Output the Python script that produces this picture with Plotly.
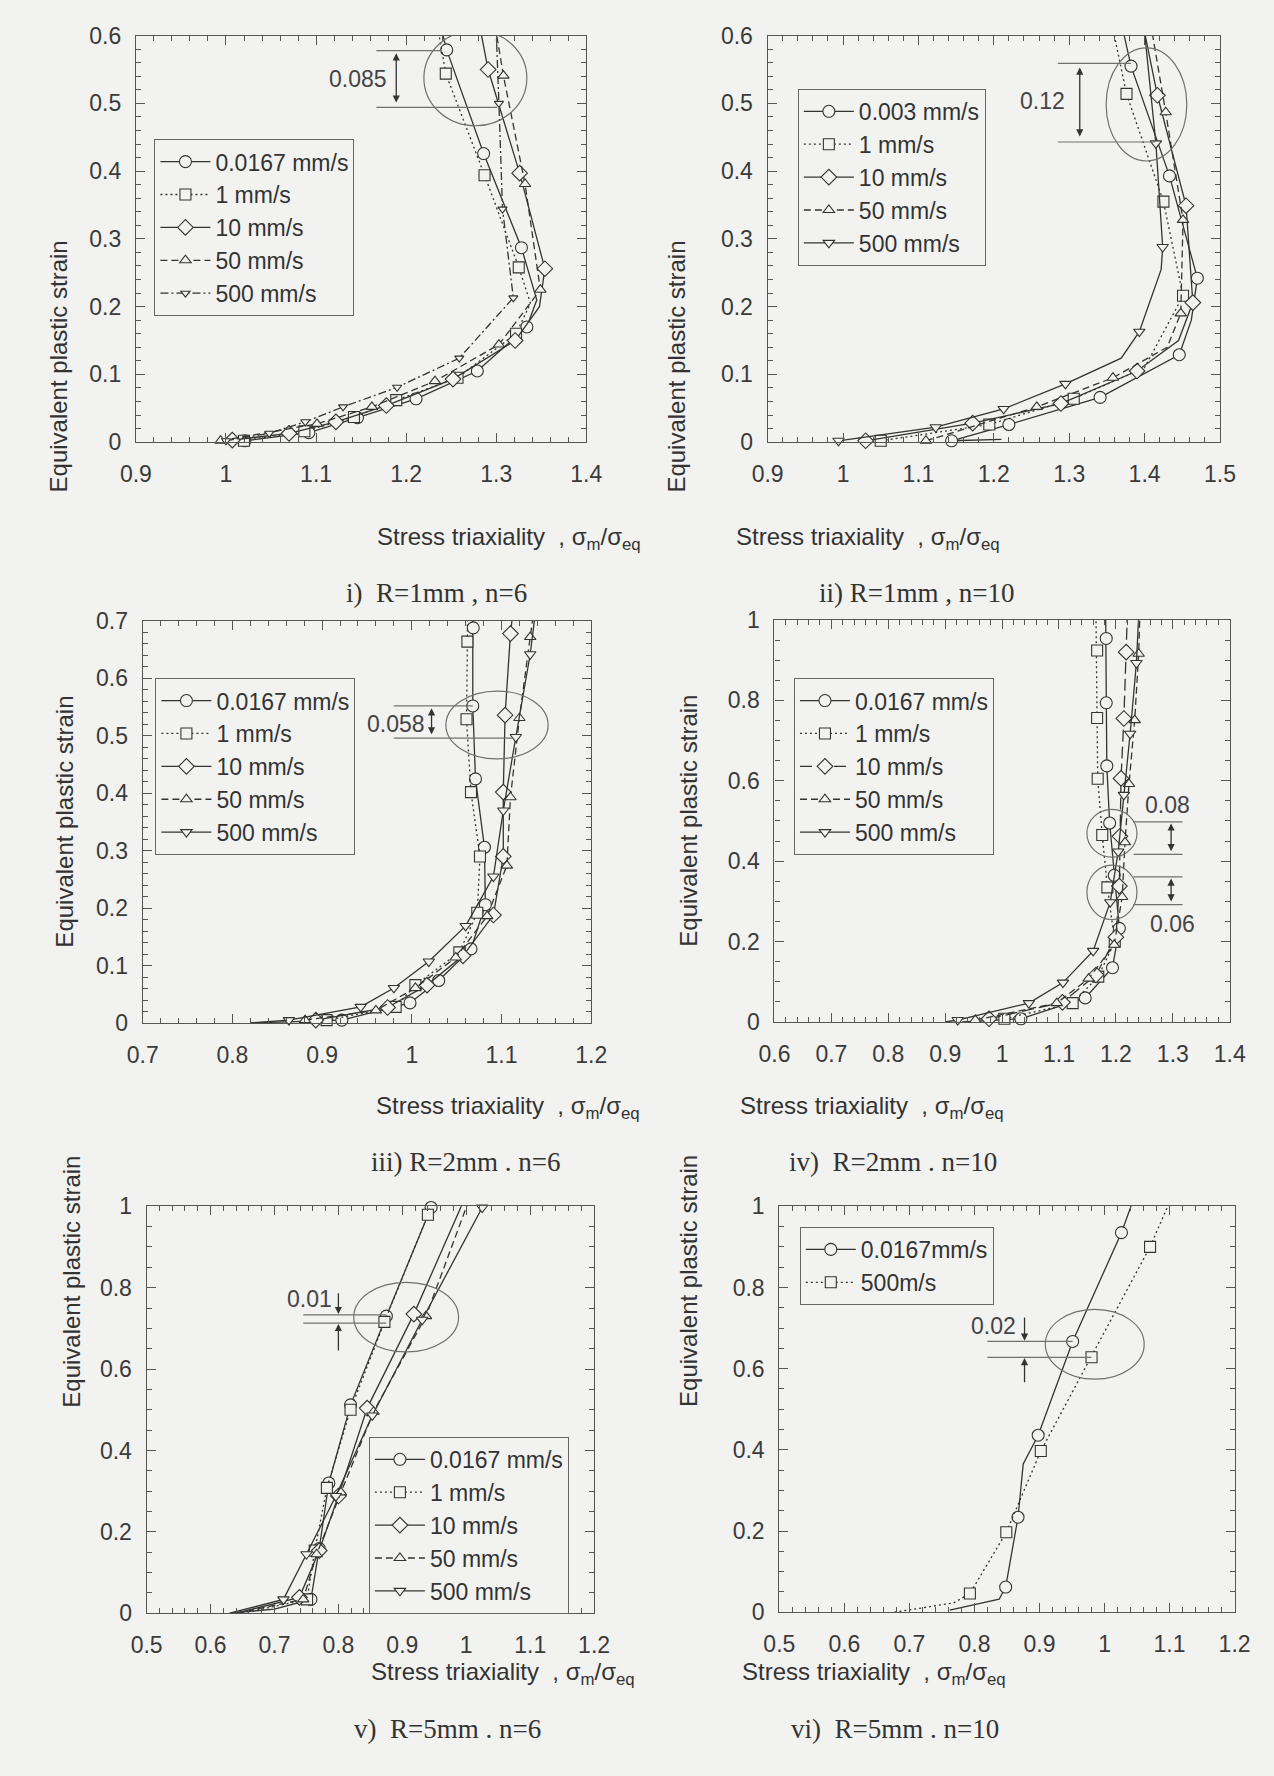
import plotly.graph_objects as go

W, H = 1274, 1776

# ---------------- labels ----------------
SPEEDS_A = ["0.0167 mm/s", "1 mm/s", "10 mm/s", "50 mm/s", "500 mm/s"]
SPEEDS_B = ["0.003 mm/s", "1 mm/s", "10 mm/s", "50 mm/s", "500 mm/s"]
SPEEDS_C = ["0.0167mm/s", "500m/s"]
CAPTIONS = ["i)  R=1mm , n=6", "ii) R=1mm , n=10", "iii) R=2mm . n=6",
            "iv)  R=2mm . n=10", "v)  R=5mm . n=6", "vi)  R=5mm . n=10"]
GAP_LABELS = ["0.085", "0.12", "0.058", "0.08", "0.06", "0.01", "0.02"]
XRANGES = [[0.9, 1.4], [0.9, 1.5], [0.7, 1.2], [0.6, 1.4], [0.5, 1.2], [0.5, 1.2]]
YRANGES = [[0, 0.6], [0, 0.6], [0, 0.7], [0, 1], [0, 1], [0, 1]]

# ---------------- data (x = stress triaxiality, y = equivalent plastic strain, m = marker shown) ----------------
# Panel i  R=1mm n=6
P1_S1_X = [1.021, 1.092, 1.146, 1.211, 1.279, 1.334, 1.345, 1.328, 1.286, 1.245, 1.240]
P1_S1_Y = [0.002, 0.014, 0.036, 0.064, 0.105, 0.170, 0.210, 0.287, 0.426, 0.579, 0.605]
P1_S1_M = [1, 1, 1, 1, 1, 1, 0, 1, 1, 1, 0]
P1_S2_X = [1.020, 1.087, 1.142, 1.189, 1.257, 1.322, 1.338, 1.325, 1.287, 1.244, 1.236]
P1_S2_Y = [0.002, 0.016, 0.037, 0.062, 0.095, 0.160, 0.205, 0.258, 0.394, 0.544, 0.605]
P1_S2_M = [1, 1, 1, 1, 1, 1, 0, 1, 1, 1, 0]
P1_S3_X = [1.007, 1.070, 1.122, 1.178, 1.252, 1.321, 1.348, 1.354, 1.326, 1.291, 1.283]
P1_S3_Y = [0.003, 0.013, 0.030, 0.054, 0.093, 0.150, 0.200, 0.256, 0.397, 0.550, 0.605]
P1_S3_M = [1, 1, 1, 1, 1, 1, 0, 1, 1, 1, 0]
P1_S4_X = [0.994, 1.101, 1.162, 1.232, 1.303, 1.349, 1.332, 1.308, 1.300]
P1_S4_Y = [0.002, 0.027, 0.052, 0.090, 0.144, 0.225, 0.381, 0.541, 0.605]
P1_S4_M = [1, 1, 1, 1, 1, 1, 1, 1, 0]
P1_S5_X = [1.000, 1.048, 1.088, 1.130, 1.190, 1.259, 1.319, 1.307, 1.303, 1.300]
P1_S5_Y = [0.002, 0.013, 0.030, 0.052, 0.081, 0.124, 0.213, 0.344, 0.500, 0.605]
P1_S5_M = [1, 1, 1, 1, 1, 1, 1, 1, 1, 0]

# Panel ii  R=1mm n=10
P2_S1_X = [1.210, 1.144, 1.220, 1.341, 1.446, 1.462, 1.470, 1.433, 1.382, 1.372]
P2_S1_Y = [0.004, 0.002, 0.026, 0.066, 0.129, 0.180, 0.242, 0.393, 0.555, 0.605]
P2_S1_M = [0, 1, 1, 1, 1, 0, 1, 1, 1, 0]
P2_S2_X = [1.050, 1.194, 1.306, 1.400, 1.451, 1.425, 1.376, 1.359]
P2_S2_Y = [0.002, 0.026, 0.064, 0.110, 0.216, 0.355, 0.514, 0.605]
P2_S2_M = [1, 1, 1, 0, 1, 1, 1, 0]
P2_S3_X = [1.030, 1.172, 1.289, 1.390, 1.445, 1.464, 1.455, 1.417, 1.400]
P2_S3_Y = [0.002, 0.028, 0.057, 0.105, 0.150, 0.206, 0.349, 0.512, 0.605]
P2_S3_M = [1, 1, 1, 1, 0, 1, 1, 1, 0]
P2_S4_X = [1.110, 1.257, 1.358, 1.430, 1.448, 1.451, 1.428, 1.410]
P2_S4_Y = [0.002, 0.052, 0.095, 0.140, 0.190, 0.328, 0.487, 0.605]
P2_S4_M = [1, 1, 1, 0, 1, 1, 1, 0]
P2_S5_X = [0.994, 1.123, 1.213, 1.295, 1.369, 1.393, 1.422, 1.424, 1.415, 1.400]
P2_S5_Y = [0.002, 0.022, 0.049, 0.086, 0.124, 0.163, 0.255, 0.288, 0.441, 0.605]
P2_S5_M = [1, 1, 1, 1, 0, 1, 0, 1, 1, 0]

# Panel iii  R=2mm n=6
P3_S1_X = [0.820, 0.922, 0.998, 1.030, 1.066, 1.082, 1.081, 1.071, 1.068, 1.0685, 1.068]
P3_S1_Y = [0.000, 0.005, 0.035, 0.074, 0.129, 0.206, 0.306, 0.425, 0.552, 0.688, 0.705]
P3_S1_M = [0, 1, 1, 1, 1, 1, 1, 1, 1, 1, 0]
P3_S2_X = [0.905, 0.982, 1.004, 1.053, 1.073, 1.076, 1.066, 1.061, 1.062, 1.062]
P3_S2_Y = [0.005, 0.028, 0.066, 0.123, 0.192, 0.290, 0.402, 0.529, 0.664, 0.705]
P3_S2_M = [1, 1, 1, 1, 1, 1, 1, 1, 1, 0]
P3_S3_X = [0.893, 0.973, 1.017, 1.057, 1.091, 1.102, 1.102, 1.104, 1.110, 1.112]
P3_S3_Y = [0.005, 0.027, 0.066, 0.117, 0.188, 0.290, 0.402, 0.536, 0.678, 0.705]
P3_S3_M = [1, 1, 1, 1, 1, 1, 1, 1, 1, 0]
P3_S4_X = [0.881, 0.960, 1.004, 1.049, 1.084, 1.106, 1.110, 1.120, 1.132, 1.135]
P3_S4_Y = [0.005, 0.022, 0.061, 0.114, 0.186, 0.274, 0.393, 0.531, 0.672, 0.705]
P3_S4_M = [1, 1, 1, 1, 1, 1, 1, 1, 1, 0]
P3_S5_X = [0.820, 0.863, 0.943, 0.980, 1.019, 1.060, 1.091, 1.102, 1.116, 1.132, 1.137]
P3_S5_Y = [0.000, 0.005, 0.028, 0.061, 0.107, 0.169, 0.255, 0.370, 0.498, 0.642, 0.705]
P3_S5_M = [0, 1, 1, 1, 1, 1, 1, 1, 1, 1, 0]

# Panel iv  R=2mm n=10
P4_S1_X = [0.930, 1.033, 1.146, 1.194, 1.206, 1.197, 1.189, 1.184, 1.183, 1.183, 1.182]
P4_S1_Y = [0.000, 0.008, 0.060, 0.135, 0.233, 0.365, 0.495, 0.637, 0.794, 0.954, 1.010]
P4_S1_M = [0, 1, 1, 1, 1, 1, 1, 1, 1, 1, 0]
P4_S2_X = [1.004, 1.124, 1.169, 1.198, 1.185, 1.176, 1.168, 1.167, 1.167, 1.165]
P4_S2_Y = [0.008, 0.047, 0.113, 0.200, 0.335, 0.465, 0.605, 0.756, 0.924, 1.010]
P4_S2_M = [1, 1, 1, 1, 1, 1, 1, 1, 1, 0]
P4_S3_X = [0.977, 1.106, 1.165, 1.200, 1.206, 1.207, 1.209, 1.214, 1.218, 1.220]
P4_S3_Y = [0.008, 0.049, 0.117, 0.211, 0.338, 0.462, 0.606, 0.755, 0.920, 1.010]
P4_S3_M = [1, 1, 1, 1, 1, 1, 1, 1, 1, 0]
P4_S4_X = [0.953, 1.096, 1.152, 1.197, 1.211, 1.216, 1.223, 1.233, 1.240, 1.242]
P4_S4_Y = [0.005, 0.047, 0.108, 0.192, 0.311, 0.447, 0.592, 0.751, 0.916, 1.010]
P4_S4_M = [1, 1, 1, 1, 1, 1, 1, 1, 1, 0]
P4_S5_X = [0.900, 0.922, 1.047, 1.107, 1.160, 1.190, 1.204, 1.214, 1.225, 1.236, 1.240]
P4_S5_Y = [0.000, 0.005, 0.047, 0.098, 0.177, 0.298, 0.424, 0.565, 0.717, 0.893, 1.010]
P4_S5_M = [0, 1, 1, 1, 1, 1, 1, 1, 1, 1, 0]

# Panel v  R=5mm n=6
P5_S1_X = [0.630, 0.700, 0.757, 0.770, 0.785, 0.819, 0.875, 0.945, 0.947]
P5_S1_Y = [0.000, 0.010, 0.034, 0.159, 0.320, 0.512, 0.730, 0.997, 1.010]
P5_S1_M = [0, 0, 1, 1, 1, 1, 1, 1, 0]
P5_S2_X = [0.650, 0.751, 0.763, 0.782, 0.819, 0.872, 0.940, 0.945]
P5_S2_Y = [0.000, 0.034, 0.154, 0.308, 0.500, 0.716, 0.979, 1.010]
P5_S2_M = [0, 1, 1, 1, 1, 1, 1, 0]
P5_S3_X = [0.640, 0.739, 0.770, 0.800, 0.845, 0.918, 0.995]
P5_S3_Y = [0.000, 0.039, 0.154, 0.288, 0.504, 0.735, 1.010]
P5_S3_M = [0, 1, 1, 1, 1, 1, 0]
P5_S4_X = [0.640, 0.745, 0.766, 0.804, 0.855, 0.937, 1.003]
P5_S4_Y = [0.000, 0.034, 0.145, 0.297, 0.495, 0.730, 1.010]
P5_S4_M = [0, 1, 1, 1, 1, 1, 0]
P5_S5_X = [0.630, 0.714, 0.750, 0.796, 0.853, 0.931, 1.025, 1.028]
P5_S5_Y = [0.000, 0.034, 0.145, 0.288, 0.486, 0.721, 0.997, 1.010]
P5_S5_M = [0, 1, 1, 1, 1, 1, 1, 0]

# Panel vi  R=5mm n=10
P6_S1_X = [0.762, 0.838, 0.848, 0.867, 0.875, 0.898, 0.951, 1.026, 1.043]
P6_S1_Y = [0.005, 0.032, 0.062, 0.234, 0.365, 0.436, 0.667, 0.935, 1.010]
P6_S1_M = [0, 0, 1, 1, 0, 1, 1, 1, 0]
P6_S2_X = [0.677, 0.768, 0.793, 0.849, 0.902, 0.980, 0.988, 1.070, 1.100]
P6_S2_Y = [0.000, 0.023, 0.046, 0.197, 0.397, 0.628, 0.655, 0.900, 1.010]
P6_S2_M = [0, 0, 1, 1, 1, 1, 0, 1, 0]

# ---------------- styling ----------------
BG = "#f2f2f0"
INK = "#333333"
FRAME = "#555555"
ANN = "#707070"
FONT = "Liberation Sans, Arial, sans-serif"
SERIF = "Liberation Serif, Times New Roman, serif"

SOLID, DOT, DASH, DASHDOT, LONGDASH = "solid", "2px,3px", "7px,4px", "8px,3px,2px,3px", "12px,5px"
SYM = {"c": ("circle", 12), "s": ("square", 11), "d": ("diamond", 12),
       "u": ("triangle-up", 10), "v": ("triangle-down", 10)}

# pixel boxes of the six plot areas: left, right, top, bottom
BOX = [(123, 585, 23, 435.5), (771, 1235, 23, 435.5), (130, 590, 617, 1025),
       (778, 1245, 616, 1024), (134, 593, 1211, 1624), (783, 1250, 1211, 1623)]

PANELS = [
    (SPEEDS_A, [(P1_S1_X, P1_S1_Y, P1_S1_M, "c", SOLID), (P1_S2_X, P1_S2_Y, P1_S2_M, "s", DOT),
                (P1_S3_X, P1_S3_Y, P1_S3_M, "d", SOLID), (P1_S4_X, P1_S4_Y, P1_S4_M, "u", DASH),
                (P1_S5_X, P1_S5_Y, P1_S5_M, "v", DASHDOT)]),
    (SPEEDS_B, [(P2_S1_X, P2_S1_Y, P2_S1_M, "c", SOLID), (P2_S2_X, P2_S2_Y, P2_S2_M, "s", DOT),
                (P2_S3_X, P2_S3_Y, P2_S3_M, "d", SOLID), (P2_S4_X, P2_S4_Y, P2_S4_M, "u", DASH),
                (P2_S5_X, P2_S5_Y, P2_S5_M, "v", SOLID)]),
    (SPEEDS_A, [(P3_S1_X, P3_S1_Y, P3_S1_M, "c", SOLID), (P3_S2_X, P3_S2_Y, P3_S2_M, "s", DOT),
                (P3_S3_X, P3_S3_Y, P3_S3_M, "d", SOLID), (P3_S4_X, P3_S4_Y, P3_S4_M, "u", DASH),
                (P3_S5_X, P3_S5_Y, P3_S5_M, "v", SOLID)]),
    (SPEEDS_A, [(P4_S1_X, P4_S1_Y, P4_S1_M, "c", SOLID), (P4_S2_X, P4_S2_Y, P4_S2_M, "s", DOT),
                (P4_S3_X, P4_S3_Y, P4_S3_M, "d", LONGDASH), (P4_S4_X, P4_S4_Y, P4_S4_M, "u", DASH),
                (P4_S5_X, P4_S5_Y, P4_S5_M, "v", SOLID)]),
    (SPEEDS_A, [(P5_S1_X, P5_S1_Y, P5_S1_M, "c", SOLID), (P5_S2_X, P5_S2_Y, P5_S2_M, "s", DOT),
                (P5_S3_X, P5_S3_Y, P5_S3_M, "d", SOLID), (P5_S4_X, P5_S4_Y, P5_S4_M, "u", DASH),
                (P5_S5_X, P5_S5_Y, P5_S5_M, "v", SOLID)]),
    (SPEEDS_C, [(P6_S1_X, P6_S1_Y, P6_S1_M, "c", SOLID), (P6_S2_X, P6_S2_Y, P6_S2_M, "s", DOT)]),
]

# legend top-left corners (px)
LEG = [(142, 128), (802, 77), (143, 675), (798, 675), (362, 1445), (804, 1232)]
# text positions (px)
XTITLE = [(368, 516), (1011, 516), (367, 1111), (1015, 1111), (362, 1703), (1018, 1703)]
YTITLE = [(28, 229), (678, 229), (34, 821), (690, 820), (41, 1417), (690, 1417)]
CAPPOS = [(336, 571), (1026, 571), (362, 1166), (1008, 1166), (345, 1759), (1010, 1759)]

fig = go.Figure()
layout = dict(width=W, height=H, margin=dict(l=0, r=0, t=0, b=0), autosize=False,
              paper_bgcolor=BG, plot_bgcolor=BG, font=dict(family=FONT, color=INK, size=22),
              showlegend=True)
annotations, shapes = [], []


def px(v):
    return v / W


def py(v):
    return 1 - v / H


for i, (names, series) in enumerate(PANELS):
    n = i + 1
    sid = "" if n == 1 else str(n)
    xa, ya = "x" + sid, "y" + sid
    l, r, t, b = BOX[i]
    ydt = 0.1 if YRANGES[i][1] < 0.9 else 0.2
    ymin = 0.02 if ydt == 0.1 else 0.05
    common = dict(showgrid=False, zeroline=False, showline=True, linecolor=FRAME, linewidth=1.2,
                  mirror="ticks", ticks="inside", ticklen=9, tickwidth=1, tickcolor=FRAME,
                  tickfont=dict(size=23, color="#3a3a3a", family=FONT),
                  minor=dict(ticks="inside", ticklen=5, tickcolor=FRAME, tickwidth=1))
    layout["xaxis" + sid] = dict(common, domain=[px(l), px(r)], range=XRANGES[i], dtick=0.1,
                                 tick0=0, anchor=ya, ticklabelstandoff=11,
                                 minor=dict(common["minor"], dtick=0.02))
    layout["yaxis" + sid] = dict(common, domain=[py(b), py(t)], range=YRANGES[i], dtick=ydt,
                                 tick0=0, anchor=xa, ticklabelstandoff=9,
                                 minor=dict(common["minor"], dtick=ymin))
    leg = "legend" + sid
    layout[leg] = dict(x=px(LEG[i][0]), y=py(LEG[i][1]), xanchor="left", yanchor="top",
                       bgcolor=BG, bordercolor="#666666", borderwidth=1, itemwidth=50,
                       font=dict(size=23, color=INK, family=FONT), tracegroupgap=0)

    for j, (X, Y, M, sym, dash) in enumerate(series):
        symbol, size = SYM[sym]
        if n == 1 and sym == "v":
            size = 8
        mk = dict(symbol=symbol, size=size, color=BG, line=dict(color=INK, width=1.1))
        ln = dict(color=INK, width=1.3, dash=dash)
        fig.add_trace(go.Scatter(x=X, y=Y, mode="lines", line=ln, xaxis=xa, yaxis=ya,
                                 showlegend=False, hoverinfo="skip"))
        mx = [x for x, m in zip(X, M) if m]
        my = [y for y, m in zip(Y, M) if m]
        fig.add_trace(go.Scatter(x=mx, y=my, mode="markers", marker=mk, xaxis=xa, yaxis=ya,
                                 showlegend=False, cliponaxis=False))
        fig.add_trace(go.Scatter(x=[None], y=[None], mode="lines+markers", line=ln, marker=mk,
                                 name=names[j], legend=leg, xaxis=xa, yaxis=ya))

    annotations.append(dict(xref="paper", yref="paper", x=px(XTITLE[i][0]), y=py(XTITLE[i][1]),
                            text="Stress triaxiality  , σ<sub>m</sub>/σ<sub>eq</sub>",
                            showarrow=False, font=dict(size=24, color=INK, family=FONT)))
    annotations.append(dict(xref="paper", yref="paper", x=px(YTITLE[i][0]), y=py(YTITLE[i][1]),
                            text="Equivalent plastic strain", textangle=-90,
                            showarrow=False, font=dict(size=24, color=INK, family=FONT)))
    annotations.append(dict(xref="paper", yref="paper", x=px(CAPPOS[i][0]), y=py(CAPPOS[i][1]),
                            text=CAPTIONS[i], showarrow=False,
                            font=dict(size=27, color=INK, family=SERIF)))


def ax(n):
    s = "" if n == 1 else str(n)
    return "x" + s, "y" + s


def ellipse(n, x0, x1, y0, y1):
    xa, ya = ax(n)
    shapes.append(dict(type="circle", xref=xa, yref=ya, x0=x0, x1=x1, y0=y0, y1=y1,
                       line=dict(color=ANN, width=1.2)))


def hline(n, x0, x1, y):
    xa, ya = ax(n)
    shapes.append(dict(type="line", xref=xa, yref=ya, x0=x0, x1=x1, y0=y, y1=y,
                       line=dict(color=ANN, width=1.2)))


def arrow(n, x, y_tail, y_head, both=False):
    xa, ya = ax(n)
    annotations.append(dict(xref=xa, yref=ya, axref=xa, ayref=ya, x=x, y=y_head, ax=x, ay=y_tail,
                            text="", showarrow=True, arrowhead=2, arrowsize=1.1, arrowwidth=1.3,
                            arrowcolor=INK, arrowside="end+start" if both else "end"))


def label(n, x, y, text):
    xa, ya = ax(n)
    annotations.append(dict(xref=xa, yref=ya, x=x, y=y, text=text, showarrow=False,
                            font=dict(size=23, color="#444444", family=FONT)))


# panel i
ellipse(1, 1.2197, 1.334, 0.467, 0.608)
hline(1, 1.167, 1.240, 0.578)
hline(1, 1.167, 1.301, 0.494)
arrow(1, 1.189, 0.499, 0.574, both=True)
label(1, 1.146, 0.536, GAP_LABELS[0])
# panel ii
ellipse(2, 1.349, 1.456, 0.415, 0.582)
hline(2, 1.285, 1.382, 0.559)
hline(2, 1.285, 1.414, 0.443)
arrow(2, 1.314, 0.449, 0.553, both=True)
label(2, 1.265, 0.504, GAP_LABELS[1])
# panel iii
ellipse(3, 1.038, 1.152, 0.460, 0.578)
hline(3, 0.980, 1.068, 0.552)
hline(3, 0.980, 1.113, 0.496)
arrow(3, 1.022, 0.500, 0.548, both=True)
label(3, 0.982, 0.521, GAP_LABELS[2])
# panel iv
ellipse(4, 1.149, 1.237, 0.410, 0.529)
ellipse(4, 1.149, 1.237, 0.255, 0.390)
for yv in (0.498, 0.417, 0.361, 0.292):
    hline(4, 1.231, 1.317, yv)
arrow(4, 1.297, 0.421, 0.494, both=True)
arrow(4, 1.297, 0.296, 0.357, both=True)
label(4, 1.291, 0.541, GAP_LABELS[3])
label(4, 1.300, 0.243, GAP_LABELS[4])
# panel v
ellipse(5, 0.824, 0.988, 0.642, 0.813)
hline(5, 0.745, 0.875, 0.733)
hline(5, 0.745, 0.875, 0.713)
arrow(5, 0.800, 0.790, 0.735)
arrow(5, 0.800, 0.642, 0.711)
label(5, 0.754, 0.771, GAP_LABELS[5])
# panel vi
ellipse(6, 0.909, 1.061, 0.574, 0.746)
hline(6, 0.820, 0.951, 0.667)
hline(6, 0.820, 0.980, 0.628)
arrow(6, 0.877, 0.730, 0.669)
arrow(6, 0.877, 0.563, 0.626)
label(6, 0.829, 0.706, GAP_LABELS[6])

layout["annotations"] = annotations
layout["shapes"] = shapes
fig.update_layout(**layout)
fig.write_html("out.html")
